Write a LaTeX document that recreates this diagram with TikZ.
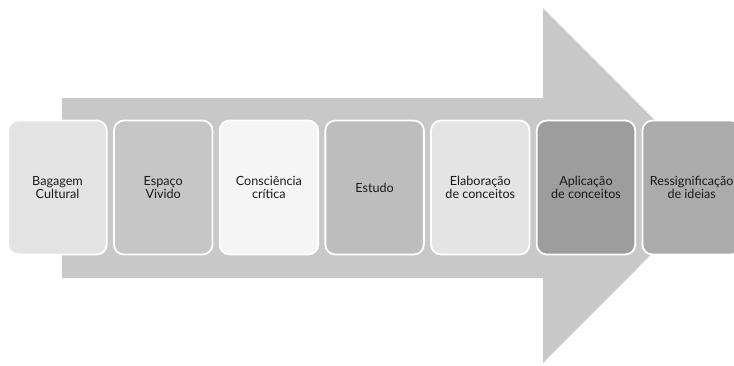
\documentclass[tikz,border=0pt]{standalone}
\usepackage{fontspec}
\setmainfont{Lato}
\usepackage{tikz}
\usetikzlibrary{positioning}
\definecolor{ArrowGray}{HTML}{C8C8C8}
\definecolor{StepA}{HTML}{E3E3E3}
\definecolor{StepB}{HTML}{C6C6C6}
\definecolor{StepC}{HTML}{F5F5F5}
\definecolor{StepD}{HTML}{BDBDBD}
\definecolor{StepE}{HTML}{E4E4E4}
\definecolor{StepF}{HTML}{9D9D9D}
\definecolor{StepG}{HTML}{ABABAB}

\begin{document}
\begin{tikzpicture}[
  x=1pt, y=-1pt,
  node distance=7.2pt,
  stage/.style={draw=white,line width=1.8pt,rounded corners=10pt,outer sep=0pt,
    minimum width=98.5pt,minimum height=134pt,inner sep=1pt,
    align=center,font=\fontsize{12.6}{13.6}\selectfont,text=black!90}
]
  \useasboundingbox (0,0) rectangle (734,365);
  \clip (0,0) rectangle (734,365);
  % big arrow behind the stages
  \fill[ArrowGray] (62,98) -- (543,98) -- (543,8) -- (720,185.5)
    -- (543,363) -- (543,278) -- (62,278) -- cycle;

  \node[stage, fill=StepA] (bagagem) at (57.5,187.5) {Bagagem\\Cultural};
  \node[stage, fill=StepB, right=of bagagem] (espaco) {Espaço\\Vivido};
  \node[stage, fill=StepC, right=of espaco] (consciencia) {Consciência\\crítica};
  \node[stage, fill=StepD, right=of consciencia] (estudo) {Estudo};
  \node[stage, fill=StepE, right=of estudo] (elaboracao) {Elaboração\\de conceitos};
  \node[stage, fill=StepF, right=of elaboracao] (aplicacao) {Aplicação\\de conceitos};
  \node[stage, fill=StepG, right=of aplicacao] (ressig) {Ressignificação\\de ideias};
\end{tikzpicture}
\end{document}
